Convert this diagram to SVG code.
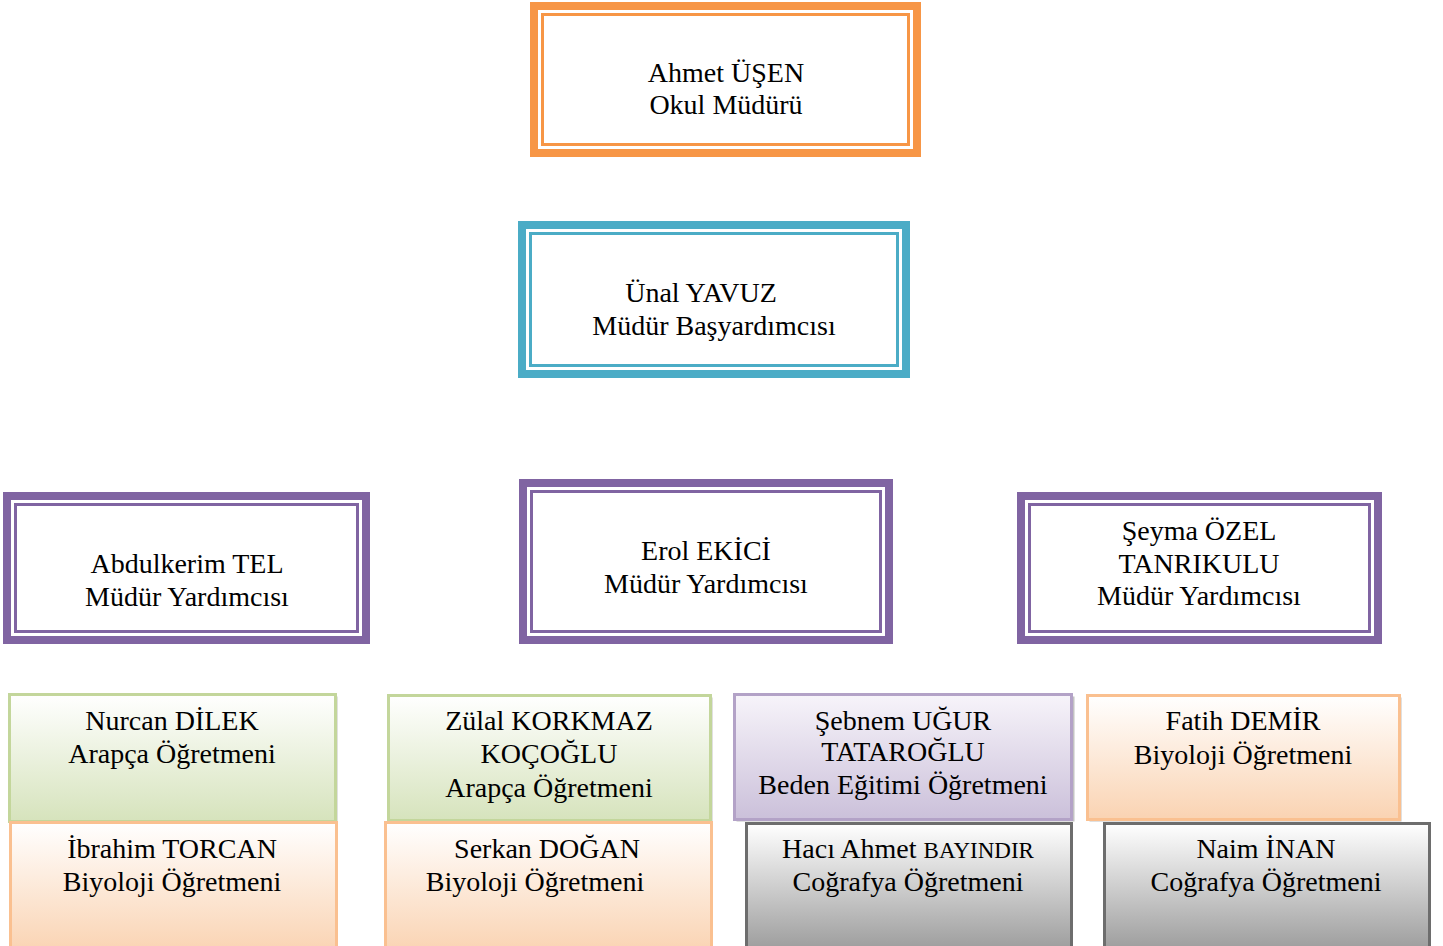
<svg xmlns="http://www.w3.org/2000/svg" width="1443" height="946" viewBox="0 0 1443 946">
<style>
text{font-family:"Liberation Serif","Times New Roman",serif;font-size:28px;fill:#000;text-anchor:middle}
.o{fill:#fff;stroke-width:8}
.i{fill:none;stroke-width:3}
.tb{stroke-width:3}
</style>
<defs>
<linearGradient id="gG" x1="0" y1="0" x2="0" y2="1"><stop offset="0" stop-color="#ffffff"/><stop offset="1" stop-color="#d6e3bc"/></linearGradient>
<linearGradient id="gO" x1="0" y1="0" x2="0" y2="1"><stop offset="0" stop-color="#ffffff"/><stop offset="1" stop-color="#fad3b2"/></linearGradient>
<linearGradient id="gP" x1="0" y1="0" x2="0" y2="1"><stop offset="0" stop-color="#f7f4fa"/><stop offset="1" stop-color="#cbc0da"/></linearGradient>
<linearGradient id="gK" x1="0" y1="0" x2="0" y2="1"><stop offset="0" stop-color="#ffffff"/><stop offset="1" stop-color="#9a9a9a"/></linearGradient>
</defs>
<g id="connectors"></g>
<g id="n-ahmet">
<rect class="o" x="534" y="6" width="383" height="147" stroke="#f79646"/>
<rect class="i" x="542.5" y="14.5" width="366" height="130" stroke="#f79646"/>
<text x="726" y="82">Ahmet ÜŞEN</text>
<text x="726" y="114">Okul Müdürü</text>
</g>
<g id="n-unal">
<rect class="o" x="522" y="225" width="384" height="149" stroke="#4bacc6"/>
<rect class="i" x="530.5" y="233.5" width="367" height="132" stroke="#4bacc6"/>
<text x="701" y="302">Ünal YAVUZ</text>
<text x="714" y="335">Müdür Başyardımcısı</text>
</g>
<g id="n-abdulkerim">
<rect class="o" x="7" y="496" width="359" height="144" stroke="#8064a2"/>
<rect class="i" x="15.5" y="504.5" width="342" height="127" stroke="#8064a2"/>
<text x="187" y="573">Abdulkerim TEL</text>
<text x="187" y="606">Müdür Yardımcısı</text>
</g>
<g id="n-erol">
<rect class="o" x="523" y="483" width="366" height="157" stroke="#8064a2"/>
<rect class="i" x="531.5" y="491.5" width="349" height="140" stroke="#8064a2"/>
<text x="706" y="560">Erol EKİCİ</text>
<text x="706" y="593">Müdür Yardımcısı</text>
</g>
<g id="n-seyma">
<rect class="o" x="1021" y="496" width="357" height="144" stroke="#8064a2"/>
<rect class="i" x="1029.5" y="504.5" width="340" height="127" stroke="#8064a2"/>
<text x="1199" y="540">Şeyma ÖZEL</text>
<text x="1199" y="573">TANRIKULU</text>
<text x="1199" y="605">Müdür Yardımcısı</text>
</g>
<g id="n-nurcan">
<rect x="11.5" y="696.5" width="326" height="127" fill="#9a9a9a" opacity="0.6"/>
<rect class="tb" x="9.5" y="694.5" width="326" height="127" fill="url(#gG)" stroke="#c3d69b"/>
<text x="172" y="730">Nurcan DİLEK</text>
<text x="172" y="763">Arapça Öğretmeni</text>
</g>
<g id="n-zulal">
<rect x="390.5" y="697.5" width="322" height="125" fill="#9a9a9a" opacity="0.6"/>
<rect class="tb" x="388.5" y="695.5" width="322" height="125" fill="url(#gG)" stroke="#c3d69b"/>
<text x="549" y="730">Zülal KORKMAZ</text>
<text x="549" y="763">KOÇOĞLU</text>
<text x="549" y="797">Arapça Öğretmeni</text>
</g>
<g id="n-sebnem">
<rect x="736.5" y="696.5" width="338" height="125" fill="#9a9a9a" opacity="0.6"/>
<rect class="tb" x="734.5" y="694.5" width="337" height="125" fill="url(#gP)" stroke="#b3a2c7"/>
<text x="903" y="730">Şebnem UĞUR</text>
<text x="903" y="761">TATAROĞLU</text>
<text x="903" y="794">Beden Eğitimi Öğretmeni</text>
</g>
<g id="n-fatih">
<rect x="1089.5" y="697.5" width="312" height="124" fill="#9a9a9a" opacity="0.6"/>
<rect class="tb" x="1087.5" y="695.5" width="312" height="124" fill="url(#gO)" stroke="#fac090"/>
<text x="1243" y="730">Fatih DEMİR</text>
<text x="1243" y="764">Biyoloji Öğretmeni</text>
</g>
<g id="n-ibrahim">
<rect class="tb" x="10.5" y="822.5" width="326" height="130" fill="url(#gO)" stroke="#fac090"/>
<text x="172" y="858">İbrahim TORCAN</text>
<text x="172" y="891">Biyoloji Öğretmeni</text>
</g>
<g id="n-serkan">
<rect class="tb" x="385.5" y="822.5" width="326" height="130" fill="url(#gO)" stroke="#fac090"/>
<text x="547" y="858">Serkan DOĞAN</text>
<text x="535" y="891">Biyoloji Öğretmeni</text>
</g>
<g id="n-haci">
<rect class="tb" x="746.5" y="823.5" width="325" height="130" fill="url(#gK)" stroke="#6d6d6d"/>
<text x="908" y="858">Hacı Ahmet <tspan font-size="23px">BAYINDIR</tspan></text>
<text x="908" y="891">Coğrafya Öğretmeni</text>
</g>
<g id="n-naim">
<rect class="tb" x="1104.5" y="823.5" width="325" height="130" fill="url(#gK)" stroke="#6d6d6d"/>
<text x="1266" y="858">Naim İNAN</text>
<text x="1266" y="891">Coğrafya Öğretmeni</text>
</g>
</svg>
